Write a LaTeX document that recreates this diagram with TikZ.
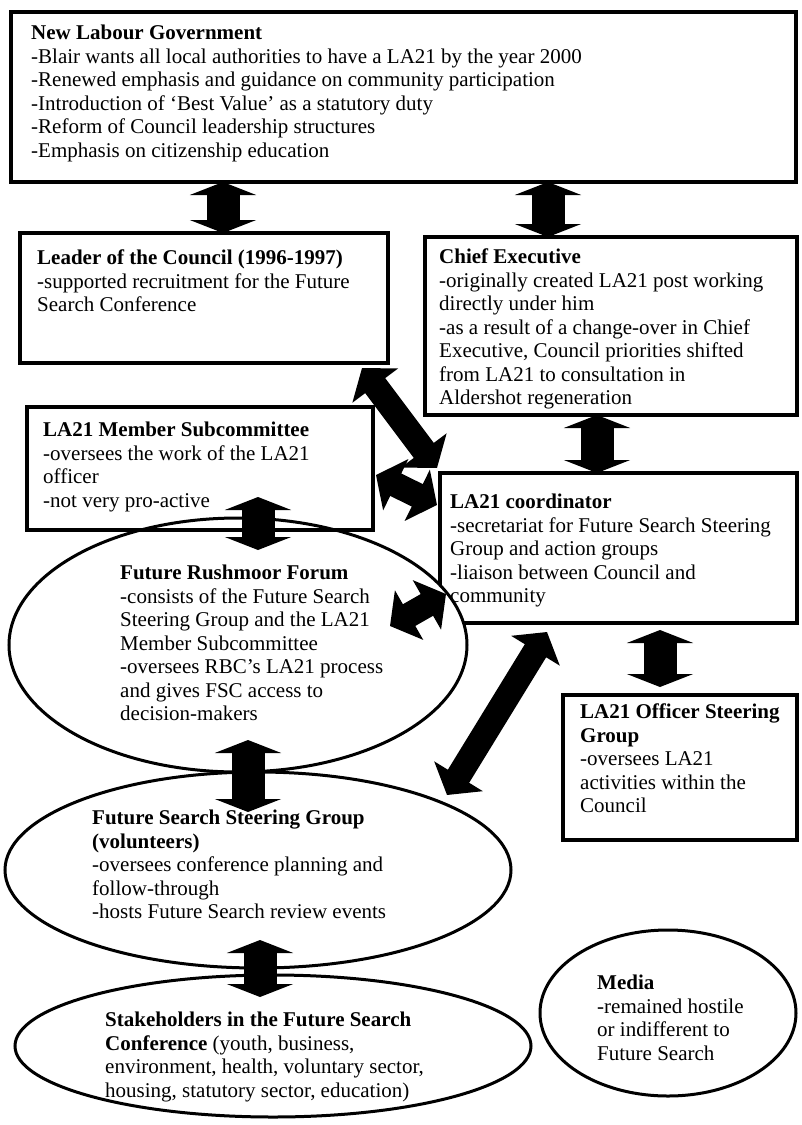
\documentclass[tikz,border=0pt]{standalone}
\usepackage{fontspec}
\setmainfont{Liberation Serif}
\usetikzlibrary{shapes.geometric,arrows.meta}
\begin{document}
\begin{tikzpicture}[x=1pt,y=-1pt,
  box/.style={draw, line width=4pt, anchor=north west, inner sep=0pt, outer sep=0pt},
  oval/.style={draw, ellipse, line width=3pt, inner sep=0pt, outer sep=0pt},
  txt/.style={anchor=north west, align=left, inner sep=0pt, font=\fontsize{21}{23.5}\selectfont},
  bigarrow/.style={line width=33pt, {Triangle[width=66pt,length=13pt]}-{Triangle[width=66pt,length=13pt]}},
  slantarrow/.style={line width=25pt, {Triangle[width=56pt,length=22pt]}-{Triangle[width=56pt,length=22pt]}}
]
\useasboundingbox (0,0) rectangle (801,1125);

% rectangular boxes
\node[box, minimum width=785pt, minimum height=170pt] (gov) at (11,12) {};
\node[box, minimum width=368pt, minimum height=130pt] (leader) at (20,233) {};
\node[box, minimum width=372pt, minimum height=178pt] (chief) at (425,237) {};
\node[box, minimum width=357pt, minimum height=150pt] (coord) at (440,473) {};
\node[txt] (coordtext) at (450,492) {\strut\textbf{LA21 coordinator}\\
  -secretariat for Future Search Steering\\
  Group and action groups\\
  -liaison between Council and\\
  community};

% the forum oval sits on top of the coordinator box
\node[oval, fill=white, minimum width=458pt, minimum height=254pt] (forum) at (238,645) {};
\node[box, minimum width=346pt, minimum height=123pt] (member) at (27,407) {};
\node[box, minimum width=234pt, minimum height=145pt] (officer) at (563,695) {};

\node[oval, minimum width=506pt, minimum height=196pt] (steer) at (258,870) {};
\node[oval, minimum width=516pt, minimum height=142pt] (stake) at (273,1046) {};
\node[oval, minimum width=256pt, minimum height=166pt] (media) at (668,1013) {};

% texts
\node[txt] (govtext) at (31,23) {\strut\textbf{New Labour Government}\\
  -Blair wants all local authorities to have a LA21 by the year 2000\\
  -Renewed emphasis and guidance on community participation\\
  -Introduction of ‘Best Value’ as a statutory duty\\
  -Reform of Council leadership structures\\
  -Emphasis on citizenship education};
\node[txt] (leadertext) at (37,248) {\strut\textbf{Leader of the Council (1996-1997)}\\
  -supported recruitment for the Future\\
  Search Conference};
\node[txt] (chieftext) at (439,247) {\strut\textbf{Chief Executive}\\
  -originally created LA21 post working\\
  directly under him\\
  -as a result of a change-over in Chief\\
  Executive, Council priorities shifted\\
  from LA21 to consultation in\\
  Aldershot regeneration};
\node[txt] (membertext) at (43,420) {\strut\textbf{LA21 Member Subcommittee}\\
  -oversees the work of the LA21\\
  officer\\
  -not very pro-active};
\node[txt] (forumtext) at (120,563) {\strut\textbf{Future Rushmoor Forum}\\
  -consists of the Future Search\\
  Steering Group and the LA21\\
  Member Subcommittee\\
  -oversees RBC’s LA21 process\\
  and gives FSC access to\\
  decision-makers};
\node[txt] (officertext) at (580,702) {\strut\textbf{LA21 Officer Steering}\\
  \textbf{Group}\\
  -oversees LA21\\
  activities within the\\
  Council};
\node[txt] (steertext) at (92,808) {\strut\textbf{Future Search Steering Group}\\
  \textbf{(volunteers)}\\
  -oversees conference planning and\\
  follow-through\\
  -hosts Future Search review events};
\node[txt] (staketext) at (105,1010) {\strut\textbf{Stakeholders in the Future Search}\\
  \textbf{Conference} (youth, business,\\
  environment, health, voluntary sector,\\
  housing, statutory sector, education)};
\node[txt] (mediatext) at (597,973) {\strut\textbf{Media}\\
  -remained hostile\\
  or indifferent to\\
  Future Search};

% arrow ends that do not sit on a border
\coordinate (memberlow) at (258,497);
\coordinate (forumtop) at (258,550);
\coordinate (forumlow) at (248,740);
\coordinate (steertop) at (248,812);
\coordinate (coordlow) at (660,630);
\coordinate (officertop) at (660,687);
\coordinate (steerlow) at (260,940);
\coordinate (staketop) at (260,997);
\coordinate (leadercorner) at (362,368);
\coordinate (coordcorner) at (437,468);
\coordinate (memberside) at (376,475);
\coordinate (coordside) at (437,505);
\coordinate (forumside) at (390,626);
\coordinate (coordedge) at (446,594);
\coordinate (coordfoot) at (547,632);
\coordinate (steerside) at (447,795);

% double block arrows
\draw[bigarrow] (gov.south -| 223,0) -- (leader.north -| 223,0);
\draw[bigarrow] (gov.south -| 548,0) -- (chief.north -| 548,0);
\draw[bigarrow] (chief.south -| 597,0) -- (coord.north -| 597,0);
\draw[bigarrow] (memberlow) -- (forumtop);
\draw[bigarrow] (forumlow) -- (steertop);
\draw[bigarrow] (coordlow) -- (officertop);
\draw[bigarrow] (steerlow) -- (staketop);
\draw[slantarrow] (leadercorner) -- (coordcorner);
\draw[slantarrow] (memberside) -- (coordside);
\draw[slantarrow] (forumside) -- (coordedge);
\draw[slantarrow] (coordfoot) -- (steerside);
\end{tikzpicture}
\end{document}
